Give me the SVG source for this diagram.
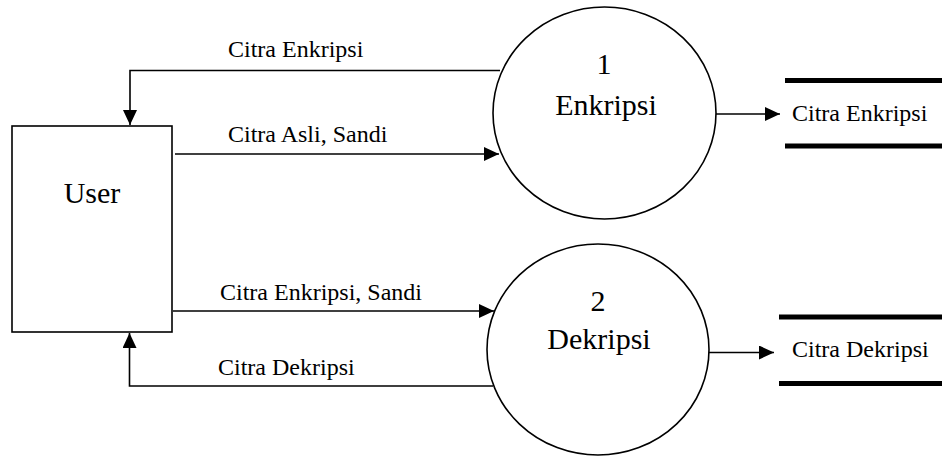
<svg xmlns="http://www.w3.org/2000/svg" width="942" height="457" viewBox="0 0 942 457">
<style>
text{font-family:'Liberation Serif','Times New Roman',serif;fill:#000}
.big{font-size:30px}
.lbl{font-size:24px}
.shape{fill:#fff;stroke:#000;stroke-width:1.6}
.conn{fill:none;stroke:#000;stroke-width:1.6}
.store{stroke:#000;stroke-width:5}
</style>
<defs>
<marker id="ah" markerWidth="15" markerHeight="14" refX="15" refY="7" orient="auto" markerUnits="userSpaceOnUse">
<path d="M0,0 L15,7 L0,14 Z" fill="#000"/>
</marker>
</defs>
<rect width="942" height="457" fill="#fff"/>
<g id="user">
<rect class="shape" x="12" y="126" width="160" height="206"/>
<text class="big" x="92" y="203" text-anchor="middle">User</text>
</g>
<g id="p1">
<ellipse class="shape" cx="604.5" cy="113" rx="111.5" ry="106"/>
<text class="big" x="604" y="74" text-anchor="middle">1</text>
<text class="big" x="606" y="115" text-anchor="middle">Enkripsi</text>
</g>
<g id="p2">
<ellipse class="shape" cx="598" cy="349.5" rx="111" ry="105.5"/>
<text class="big" x="598" y="311" text-anchor="middle">2</text>
<text class="big" x="599" y="349" text-anchor="middle">Dekripsi</text>
</g>
<g id="store1">
<line class="store" x1="785" y1="80.5" x2="942" y2="80.5"/>
<line class="store" x1="785" y1="146" x2="942" y2="146"/>
<text class="lbl" x="792" y="121">Citra Enkripsi</text>
</g>
<g id="store2">
<line class="store" x1="779" y1="317" x2="942" y2="317"/>
<line class="store" x1="779" y1="383.5" x2="942" y2="383.5"/>
<text class="lbl" x="792" y="357">Citra Dekripsi</text>
</g>
<g id="connectors">
<polyline class="conn" points="500,70.5 130,70.5 130,125" marker-end="url(#ah)"/>
<line class="conn" x1="175" y1="154" x2="499" y2="154" marker-end="url(#ah)"/>
<line class="conn" x1="173" y1="311" x2="494" y2="311" marker-end="url(#ah)"/>
<polyline class="conn" points="493,386 129.5,386 129.5,333" marker-end="url(#ah)"/>
<line class="conn" x1="716" y1="114" x2="780" y2="114" marker-end="url(#ah)"/>
<line class="conn" x1="709" y1="352.5" x2="774" y2="352.5" marker-end="url(#ah)"/>
<text class="lbl" x="228" y="57">Citra Enkripsi</text>
<text class="lbl" x="228" y="142">Citra Asli, Sandi</text>
<text class="lbl" x="220" y="300">Citra Enkripsi, Sandi</text>
<text class="lbl" x="218" y="375">Citra Dekripsi</text>
</g>
</svg>
